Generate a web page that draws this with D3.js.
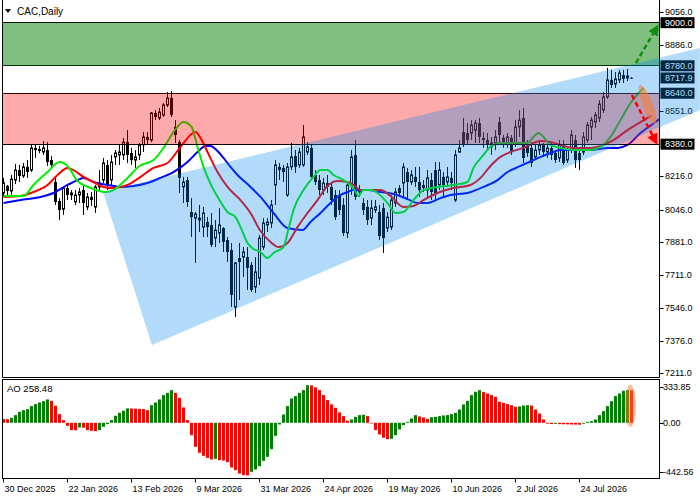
<!DOCTYPE html>
<html><head><meta charset="utf-8">
<script src="https://cdn.jsdelivr.net/npm/d3@7"></script>
<style>
html,body{margin:0;padding:0;background:#fff;}
svg{display:block;font-family:"Liberation Sans",Arial,sans-serif;}
</style></head><body>
<svg id="c" width="700" height="500"></svg>
<script>
const titleText = "CAC,Daily";
const xTickLabels = ["30 Dec 2025","22 Jan 2026","13 Feb 2026","9 Mar 2026","31 Mar 2026","24 Apr 2026","19 May 2026","10 Jun 2026","2 Jul 2026","24 Jul 2026"];
const xTickBars = [0,16,32,48,64,80,96,112,128,144];
const priceTicks = [9056,8886,8551,8216,8046,7881,7711,7546,7376,7211];
const levelLabels = [9000,8780,8640,8380];
const lastPrice = 8717.9;
const greenZone = [8780,9000];
const redZone = [8380,8640];

const open = [
8131,8167,8141,8197,8248,8218,8264,8248,8361,8355,
8340,8350,8299,8187,8090,8049,8156,8121,8085,8121,
8146,8060,8111,8060,8162,8197,8274,8197,8315,8325,
8325,8391,8335,8299,8325,8376,8417,8401,8539,8514,
8529,8580,8616,8468,8391,8162,8197,8034,8003,7993,
7957,7983,7968,7901,7927,7952,7891,7840,7549,7799,
7804,7804,7764,7651,7697,7855,7968,7978,8172,8264,
8259,8121,8264,8320,8274,8274,8340,8361,8223,8197,
8146,8182,8162,8121,8121,8070,7927,8172,8325,8136,
8080,8060,8003,8044,8034,8054,7952,7957,8080,8156,
8182,8238,8187,8213,8187,8172,8146,8197,8248,8172,
8213,8187,8208,8095,8340,8442,8437,8437,8452,8488,
8412,8401,8366,8386,8493,8412,8386,8412,8386,8468,
8514,8376,8361,8315,8350,8376,8340,8361,8335,8310,
8376,8299,8350,8401,8335,8340,8401,8468,8493,8514,
8554,8621,8708,8687,8708,8733,8718,8719];
const high = [
8208,8172,8223,8279,8274,8284,8299,8376,8381,8371,
8396,8391,8320,8208,8105,8162,8172,8146,8146,8156,
8167,8131,8136,8172,8248,8310,8299,8325,8350,8376,
8412,8452,8361,8350,8386,8442,8442,8544,8554,8565,
8590,8646,8651,8503,8401,8213,8213,8105,8034,8070,
8060,8008,8029,7993,8054,7957,7906,7876,7779,7876,
7855,7855,7779,7804,7917,8003,8003,8095,8299,8284,
8274,8284,8386,8350,8361,8478,8391,8376,8248,8223,
8208,8223,8187,8146,8146,8105,8187,8350,8401,8172,
8105,8095,8095,8095,8070,8080,8034,8121,8156,8172,
8284,8259,8248,8264,8264,8197,8248,8233,8289,8289,
8238,8264,8238,8350,8401,8514,8488,8503,8503,8514,
8442,8437,8417,8452,8519,8427,8437,8427,8503,8554,
8565,8401,8391,8376,8401,8386,8376,8386,8350,8401,
8401,8361,8452,8427,8350,8442,8493,8519,8544,8605,
8646,8769,8759,8748,8759,8759,8764,8722];
const low = [
8111,8116,8121,8177,8187,8208,8208,8238,8310,8335,
8325,8269,8259,8070,7993,8019,8095,8095,8070,8080,
8019,8044,8065,8029,8146,8182,8146,8172,8274,8274,
8299,8284,8274,8259,8299,8340,8376,8391,8503,8503,
8519,8570,8519,8386,8131,8080,8060,7906,7774,7932,
7906,7906,7855,7855,7876,7830,7779,7549,7498,7585,
7702,7636,7626,7621,7662,7840,7932,7952,8070,8197,
8187,8111,8248,8233,8259,8264,8325,8197,8172,8121,
8121,8131,8070,7993,8019,7911,7901,8121,8095,8111,
8019,7968,7968,8029,7891,7825,7932,7942,8060,8111,
8111,8095,8172,8162,8111,8136,8111,8095,8095,8146,
8111,8162,8146,8085,8335,8366,8376,8401,8386,8386,
8361,8350,8325,8350,8386,8361,8361,8325,8366,8417,
8284,8315,8264,8299,8325,8315,8310,8299,8284,8289,
8274,8284,8335,8259,8248,8325,8386,8401,8463,8493,
8539,8611,8667,8667,8692,8692,8702,8716];
const close = [
8182,8141,8202,8248,8218,8264,8238,8361,8350,8345,
8361,8289,8274,8085,8044,8156,8121,8131,8121,8136,
8080,8111,8095,8162,8182,8284,8172,8289,8335,8340,
8391,8325,8299,8315,8376,8417,8401,8539,8519,8544,
8580,8616,8529,8427,8208,8187,8085,8008,8024,8003,
8029,7957,7866,7942,7968,7881,7830,7611,7774,7779,
7830,7748,7636,7728,7901,7978,7983,8070,8274,8248,
8238,8264,8315,8264,8340,8417,8366,8213,8187,8146,
8182,8162,8095,8008,8044,7927,8172,8315,8111,8146,
8044,7993,8054,8060,7911,7901,8008,8095,8136,8131,
8264,8187,8223,8187,8146,8156,8208,8136,8131,8248,
8172,8213,8182,8325,8361,8376,8401,8478,8488,8417,
8401,8376,8386,8417,8427,8386,8417,8340,8468,8503,
8310,8335,8284,8350,8376,8340,8361,8325,8299,8376,
8284,8350,8427,8299,8299,8417,8478,8503,8529,8585,
8621,8708,8682,8713,8743,8713,8728,8717.9];

// Alligator lines (bar index, price)
const lipsBar = [0,5,7.5,11,14,16,18.5,22,25.5,27.5,31,34,37.5,40,42.5,45,47,48.5,50,52,54,56,58,59.25,61,62.5,64.25,66,67.5,70,71,72.5,75,77.5,79.25,81,82.5,85,87.5,88.75,90,92,93.5,96,98,100,102.5,105,108.5,112.5,116,117.5,120,122,124.25,131,132.25,133.75,135,136.75,139.25,142.5,146.75,149.25,151.75,154.25,156.75,160];
const lipsVal = [8116,8116,8172,8238,8289,8269,8192,8156,8136,8146,8208,8269,8299,8361,8442,8493,8468,8366,8264,8167,8095,8034,8008,7957,7876,7845,7830,7799,7825,7855,7927,8044,8146,8213,8248,8248,8223,8197,8156,8116,8146,8146,8131,8080,8029,8034,8095,8146,8162,8172,8187,8259,8325,8371,8386,8386,8412,8437,8417,8376,8361,8350,8350,8366,8417,8503,8590,8667];
const teethBar = [0,4.25,7.5,11,13.5,16,17.5,20,22.5,25,27.5,31,34.25,37.5,41,44.25,46.75,48,49.25,51,53.5,56,59.25,61.75,64.25,66.75,68.75,71,73.5,76,78.5,81,83.5,86,87.5,89.25,94.25,96.75,100,102.5,105,108.5,112.5,116.75,119.25,121.75,124.25,126.75,130,134.25,136.75,139.25,142.5,146.75,149.25,152.5,156,159.25,162];
const teethVal = [8111,8116,8136,8172,8223,8259,8248,8213,8187,8162,8156,8172,8213,8259,8284,8366,8427,8442,8412,8340,8238,8162,8095,8029,7937,7881,7855,7876,7957,8029,8095,8167,8192,8187,8172,8146,8146,8116,8060,8065,8095,8131,8156,8172,8208,8269,8315,8340,8361,8396,8391,8376,8361,8361,8371,8401,8452,8493,8524];
const jawBar = [0,4.25,9.25,12.5,16,18.5,20,22.5,26,29.25,32.5,36,39.25,42.5,46,48.5,50.5,51.75,53.5,55,56.75,58.5,61.75,64.25,67.5,71,74.75,76.75,79.25,81.75,84.25,86,87.5,91,94.25,97.5,101,103.5,106,109.25,111.75,116,119.25,121.75,123.5,126,129.25,132.5,134.25,136.75,139.25,142.5,146.75,151,153.5,156,159.25,163,165];
const jawVal = [8080,8095,8111,8131,8172,8197,8208,8187,8172,8162,8167,8182,8208,8238,8289,8340,8371,8371,8345,8310,8264,8223,8162,8111,8029,7952,7942,7983,8029,8080,8121,8136,8146,8146,8136,8126,8100,8080,8080,8105,8121,8131,8156,8177,8197,8238,8269,8299,8315,8335,8350,8350,8350,8361,8361,8376,8437,8493,8524];

const aoValues = [
35,33,46,71,102,117,126,154,173,188,
200,216,203,157,80,25,-27,-66,-67,-42,
-44,-66,-72,-75,-66,-36,-12,25,65,92,
111,133,132,131,129,128,117,163,188,216,
256,277,302,277,231,142,25,-111,-216,-270,
-297,-315,-330,-324,-336,-339,-354,-402,-426,-456,
-471,-473,-441,-420,-390,-342,-306,-237,-117,-15,
77,154,225,247,277,302,348,346,327,302,
256,210,170,139,96,62,20,31,55,71,
74,62,-6,-66,-105,-135,-147,-144,-111,-60,
-21,9,40,71,59,49,37,52,55,62,
68,71,80,92,123,170,203,256,287,302,
284,271,256,240,194,185,173,163,148,151,
160,163,160,123,86,31,-8,-11,-9,-12,
-13,-14,-15,-16,-17,-8,9,15,31,71,
108,154,200,247,271,296,302,300];
const aoLabel = "AO 258.48";
const aoTicks = [333.85,0,-442.56];

const wedgeBars = [24.9,37.1,174.1,174.1];
const wedgePrices = [8136,7355,8554,8871];
const upArrowBars = [158.1,163.4];
const upArrowPrices = [8794,8978];
const downArrowBars = [157.1,163.1];
const downArrowPrices = [8631,8391];
const ellipseBar = [161.0], ellipsePrice = [8582];
const aoEllipseBar = [156.7], aoEllipseValue = [157];

// ---------- layout ----------
const L = 2.5, R = 659.5, mainBottom = 377.5, aoTop = 379.5, aoBottom = 478.5;
const x = d3.scaleLinear().domain([0,1]).range([3.5,7.5]);
const y = d3.scaleLinear().domain([7211,9056]).range([373.3,11.7]);
const ya = d3.scaleLinear().domain([-442.56,0,333.85]).range([472,422.8,386.7]);

const svg = d3.select("#c");
svg.append("rect").attr("width",700).attr("height",500).attr("fill","#fff");
const defs = svg.append("defs");
defs.append("clipPath").attr("id","clipMain").append("rect")
  .attr("x",L).attr("y",0).attr("width",R-L).attr("height",mainBottom);
defs.append("clipPath").attr("id","clipAO").append("rect")
  .attr("x",L).attr("y",aoTop).attr("width",R-L).attr("height",aoBottom-aoTop);
function marker(id,color){
  defs.append("marker").attr("id",id).attr("markerUnits","userSpaceOnUse")
    .attr("markerWidth",11).attr("markerHeight",11).attr("refX",8).attr("refY",5.5)
    .attr("orient","auto").append("path").attr("d","M0,0 L11,5.5 L0,11 Z").attr("fill",color);
}
marker("mGreen","#148c14");
marker("mRed","#ff0000");

const main = svg.append("g").attr("clip-path","url(#clipMain)");
const idx = d3.range(close.length);

// candles
main.append("g").selectAll("line").data(idx).join("line")
  .attr("x1",i=>x(i)).attr("x2",i=>x(i))
  .attr("y1",i=>y(high[i])).attr("y2",i=>y(low[i]))
  .attr("stroke","#000").attr("stroke-width",1);
main.append("g").selectAll("rect").data(idx).join("rect")
  .attr("x",i=>close[i]>=open[i]? x(i)-1 : x(i)-1.5)
  .attr("width",i=>close[i]>=open[i]? 2 : 3)
  .attr("y",i=>y(Math.max(open[i],close[i])))
  .attr("height",i=>Math.max(1,Math.abs(y(open[i])-y(close[i]))))
  .attr("fill",i=>close[i]>=open[i]?"#fff":"#000")
  .attr("stroke",i=>close[i]>=open[i]?"#000":"none")
  .attr("stroke-width",1);

// alligator
const lineGen = d3.line().x(d=>x(d[0])).y(d=>y(d[1])).curve(d3.curveMonotoneX);
[[jawBar,jawVal,"#0000ff"],[teethBar,teethVal,"#ff0000"],[lipsBar,lipsVal,"#00ee00"]].forEach(([b,v,c])=>{
  main.append("path").datum(b.map((bb,k)=>[bb,v[k]]))
    .attr("d",lineGen).attr("fill","none").attr("stroke",c).attr("stroke-width",2);
});

// level lines then zones
levelLabels.forEach(v=>{
  const yy = Math.floor(y(v))+0.5;
  main.append("line").attr("x1",L).attr("x2",R).attr("y1",yy).attr("y2",yy)
    .attr("stroke","#000").attr("stroke-width",1);
});
main.append("rect").attr("x",L).attr("width",R-L)
  .attr("y",y(greenZone[1])).attr("height",y(greenZone[0])-y(greenZone[1]))
  .attr("fill","rgba(0,128,0,0.5)");
main.append("rect").attr("x",L).attr("width",R-L)
  .attr("y",y(redZone[1])).attr("height",y(redZone[0])-y(redZone[1]))
  .attr("fill","rgba(255,0,0,0.333)");

// frame main
svg.append("line").attr("x1",L).attr("x2",L).attr("y1",0).attr("y2",mainBottom).attr("stroke","#000");
svg.append("line").attr("x1",R).attr("x2",R).attr("y1",0).attr("y2",mainBottom).attr("stroke","#000");
svg.append("line").attr("x1",L).attr("x2",R).attr("y1",mainBottom).attr("y2",mainBottom).attr("stroke","#000");

// price axis
const fs = 9;
priceTicks.forEach(v=>{
  const yy = y(v);
  svg.append("line").attr("x1",R).attr("x2",R+4).attr("y1",Math.round(yy)+0.5).attr("y2",Math.round(yy)+0.5).attr("stroke","#000");
  svg.append("text").attr("x",665).attr("y",yy).attr("dy","0.35em")
    .attr("font-size",fs).attr("fill","#000").text(v.toFixed(1));
});
levelLabels.concat([lastPrice]).forEach(v=>{
  const yy = y(v);
  svg.append("rect").attr("x",660.5).attr("y",yy-5.5).attr("width",34).attr("height",11).attr("fill","#000");
  svg.append("text").attr("x",665).attr("y",yy).attr("dy","0.35em")
    .attr("font-size",fs).attr("fill","#fff").text(v.toFixed(1));
});

// wedge
svg.append("polygon")
  .attr("points",wedgeBars.map((b,k)=>[x(b),y(wedgePrices[k])].join(",")).join(" "))
  .attr("fill","rgba(0,136,235,0.3)");

// arrows and ellipse
svg.append("line")
  .attr("x1",x(upArrowBars[0])).attr("y1",y(upArrowPrices[0]))
  .attr("x2",x(upArrowBars[1])).attr("y2",y(upArrowPrices[1]))
  .attr("stroke","#148c14").attr("stroke-width",2.5).attr("stroke-dasharray","5,3")
  .attr("marker-end","url(#mGreen)");
svg.append("line")
  .attr("x1",x(downArrowBars[0])).attr("y1",y(downArrowPrices[0]))
  .attr("x2",x(downArrowBars[1])).attr("y2",y(downArrowPrices[1]))
  .attr("stroke","#ff0000").attr("stroke-width",2.5).attr("stroke-dasharray","5,3")
  .attr("marker-end","url(#mRed)");
svg.append("ellipse")
  .attr("cx",0).attr("cy",0).attr("rx",5).attr("ry",21)
  .attr("transform",`translate(${x(ellipseBar[0])},${y(ellipsePrice[0])}) rotate(-21)`)
  .attr("fill","rgba(255,120,40,0.55)");

// title
svg.append("path").attr("d","M5,9 L11,9 L8,13 Z").attr("fill","#000");
svg.append("text").attr("x",17).attr("y",15).attr("font-size",10).attr("fill","#000").text(titleText);

// AO panel
const ao = svg.append("g").attr("clip-path","url(#clipAO)");
ao.selectAll("rect").data(idx).join("rect")
  .attr("x",i=>x(i)-1.5).attr("width",3)
  .attr("y",i=>Math.min(ya(aoValues[i]),ya(0)))
  .attr("height",i=>Math.abs(ya(aoValues[i])-ya(0)))
  .attr("fill",i=> (i>0 && aoValues[i]>aoValues[i-1]) ? "#008000" : "#ff0000");
svg.append("ellipse").attr("cx",x(aoEllipseBar[0])).attr("cy",ya(aoEllipseValue[0]))
  .attr("rx",5.5).attr("ry",21).attr("fill","rgba(255,120,40,0.5)");
svg.append("rect").attr("x",L).attr("y",aoTop).attr("width",R-L).attr("height",aoBottom-aoTop)
  .attr("fill","none").attr("stroke","#000");
svg.append("text").attr("x",7).attr("y",388.5).attr("dy","0.35em").attr("font-size",9.5).attr("fill","#000").text(aoLabel);
aoTicks.forEach(v=>{
  const yy = ya(v);
  svg.append("line").attr("x1",R).attr("x2",R+4).attr("y1",Math.round(yy)+0.5).attr("y2",Math.round(yy)+0.5).attr("stroke","#000");
  svg.append("text").attr("x",663).attr("y",yy).attr("dy","0.35em").attr("font-size",fs).attr("fill","#000")
    .text(v.toFixed(2));
});

// time axis
xTickBars.forEach((b,k)=>{
  const xx = Math.floor(x(b))+0.5;
  svg.append("line").attr("x1",xx).attr("x2",xx).attr("y1",aoBottom).attr("y2",aoBottom+4).attr("stroke","#000");
  svg.append("text").attr("x",xx+1).attr("y",491.5).attr("font-size",fs).attr("fill","#000").text(xTickLabels[k]);
});
</script>
</body></html>
